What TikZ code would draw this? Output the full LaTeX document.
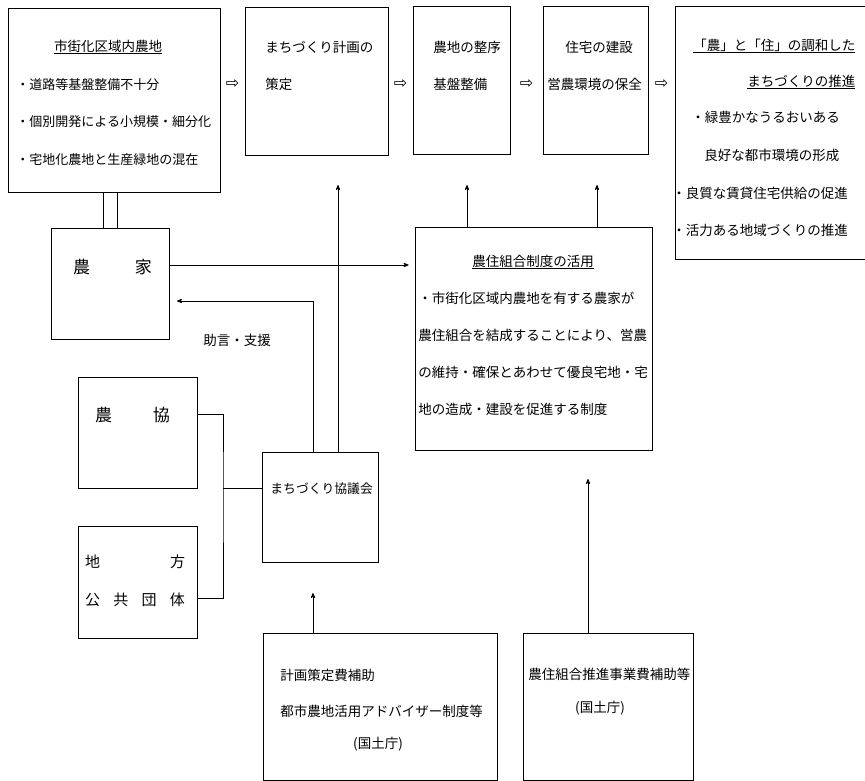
\documentclass[tikz,border=0pt]{standalone}
\usepackage{fontspec}
\setmainfont{Noto Sans CJK JP}
\newfontfamily\symfont{DejaVu Sans}
\usepackage{tikz}
\tikzset{x=1pt,y=-1pt}
\usetikzlibrary{arrows, positioning}
\def\big#1{\fontsize{#1}{#1}\selectfont}

\begin{document}
\begin{tikzpicture}[font=\big{13.5}, line width=.8pt, >=stealth',
    box/.style={draw, rectangle, inner sep=0pt},
    txt/.style={anchor=west, inner sep=0pt},
    mid/.style={inner sep=0pt},
    flow/.style={font=\symfont\big{16}, inner sep=0pt}]
\clip (0,0) rectangle (865,781);
    % top row
    \node[box, minimum width=212, minimum height=184] (genjo) at (114,100) {};
    \node[mid] (g0) at (108,47) {\underline{市街化区域内農地}};
    \node[txt, font=\big{13}] (g1) at (16,85) {・道路等基盤整備不十分};
    \node[txt, font=\big{13}] (g2) at (16,122) {・個別開発による小規模・細分化};
    \node[txt, font=\big{13}] (g3) at (16,160) {・宅地化農地と生産緑地の混在};

    \node[box, minimum width=143, minimum height=148] (keikaku) at (316.5,81) {};
    \node[txt] (k1) at (265,47) {まちづくり計画の};
    \node[txt] (k2) at (265,84) {策定};

    \node[box, minimum width=97, minimum height=148] (seibi) at (461.5,80) {};
    \node[txt] (e1) at (433,47) {農地の整序};
    \node[txt] (e2) at (433,84) {基盤整備};

    \node[box, minimum width=105, minimum height=148] (kensetsu) at (595.5,80) {};
    \node[txt] (r1) at (565,47) {住宅の建設};
    \node[txt] (r2) at (547,84) {営農環境の保全};

    \node[box, minimum width=200, minimum height=253] (suishin) at (775,132.5) {};
    \node[txt] (s0) at (693,46) {\underline{「農」と「住」の調和した}};
    \node[txt] (s1) at (747,82) {\underline{まちづくりの推進}};
    \node[txt] (s2) at (691,117) {・緑豊かなうるおいある};
    \node[txt] (s3) at (704,155) {良好な都市環境の形成};
    \node[txt] (s4) at (672,193) {・良質な賃貸住宅供給の促進};
    \node[txt] (s5) at (672,230) {・活力ある地域づくりの推進};

    \node[flow] (f1) at (232.5,84) {⇨};
    \node[flow] (f2) at (400.5,84) {⇨};
    \node[flow] (f3) at (526.5,84) {⇨};
    \node[flow] (f4) at (661.5,84) {⇨};

    % middle
    \node[box, minimum width=118, minimum height=111] (nouka) at (110,283.5) {};
    \node[mid, font=\big{17}] (nouka-t) at (112.5,267) {\makebox[79pt][s]{農\hfill 家}};

    \node[box, minimum width=237, minimum height=223] (noujuu) at (533.5,338.5) {};
    \node[mid] (n0) at (533,262) {\underline{農住組合制度の活用}};
    \node[txt] (n1) at (418,298) {・市街化区域内農地を有する農家が};
    \node[txt] (n2) at (418,335) {農住組合を結成することにより、営農};
    \node[txt] (n3) at (418,372) {の維持・確保とあわせて優良宅地・宅};
    \node[txt] (n4) at (418,409) {地の造成・建設を促進する制度};

    \node[txt] (jogen) at (203,340) {助言・支援};

    \node[box, minimum width=119, minimum height=111] (noukyo) at (137.5,432.5) {};
    \node[mid, font=\big{17}] (noukyo-t) at (132.5,415) {\makebox[75pt][s]{農\hfill 協}};

    \node[box, minimum width=119, minimum height=112] (chiho) at (137.5,582) {};
    \node[mid, font=\big{15}] (c1) at (135,562) {\makebox[100pt][s]{地\hfill 方}};
    \node[mid, font=\big{15}] (c2) at (135,600) {\makebox[100pt][s]{公\hfill 共\hfill 団\hfill 体}};

    \node[box, minimum width=116, minimum height=110] (kyogi) at (320,507) {};
    \node[txt, font=\big{12.8}] (kyogi-t) at (270,489) {まちづくり協議会};

    % bottom row
    \node[box, minimum width=234, minimum height=147] (hojo1) at (380,706.5) {};
    \node[txt] (h1) at (280,675) {計画策定費補助};
    \node[txt] (h2) at (280,711) {都市農地活用アドバイザー制度等};
    \node[mid] (h3) at (378,744) {(国土庁)};

    \node[box, minimum width=170, minimum height=147] (hojo2) at (608,706.5) {};
    \node[txt] (h4) at (528,674) {農住組合推進事業費補助等};
    \node[mid] (h5) at (600,708) {(国土庁)};

    % free arrow ends
    \coordinate (a1) at (177,301);
    \coordinate (a2) at (338,185);
    \coordinate (a3) at (467,185);
    \coordinate (a4) at (597,185);
    \coordinate (a5) at (313,593);
    \coordinate (a6) at (588,479);
    \coordinate (j) at (223,488);

    % connectors
    \draw ([xshift=-7pt]nouka.north) -- ([xshift=-7pt]nouka.north |- genjo.south);
    \draw ([xshift=7pt]nouka.north) -- ([xshift=7pt]nouka.north |- genjo.south);
    \draw[->, shorten >=6pt] ([yshift=18.5pt]nouka.east) -- ([yshift=18.5pt]nouka.east -| noujuu.west);
    \draw[->] ([xshift=-7pt]kyogi.north) |- (a1);
    \draw[->] ([xshift=18pt]kyogi.north) -- (a2);
    \draw[->] (noujuu.north -| a3) -- (a3);
    \draw[->] (noujuu.north -| a4) -- (a4);
    \draw ([yshift=18.5pt]noukyo.east) -| (j) |- ([yshift=-16pt]chiho.east);
    \draw (j) -- (j -| kyogi.west);
    \draw[->] (hojo1.north -| a5) -- (a5);
    \draw[->] (hojo2.north -| a6) -- (a6);
\end{tikzpicture}
\end{document}
